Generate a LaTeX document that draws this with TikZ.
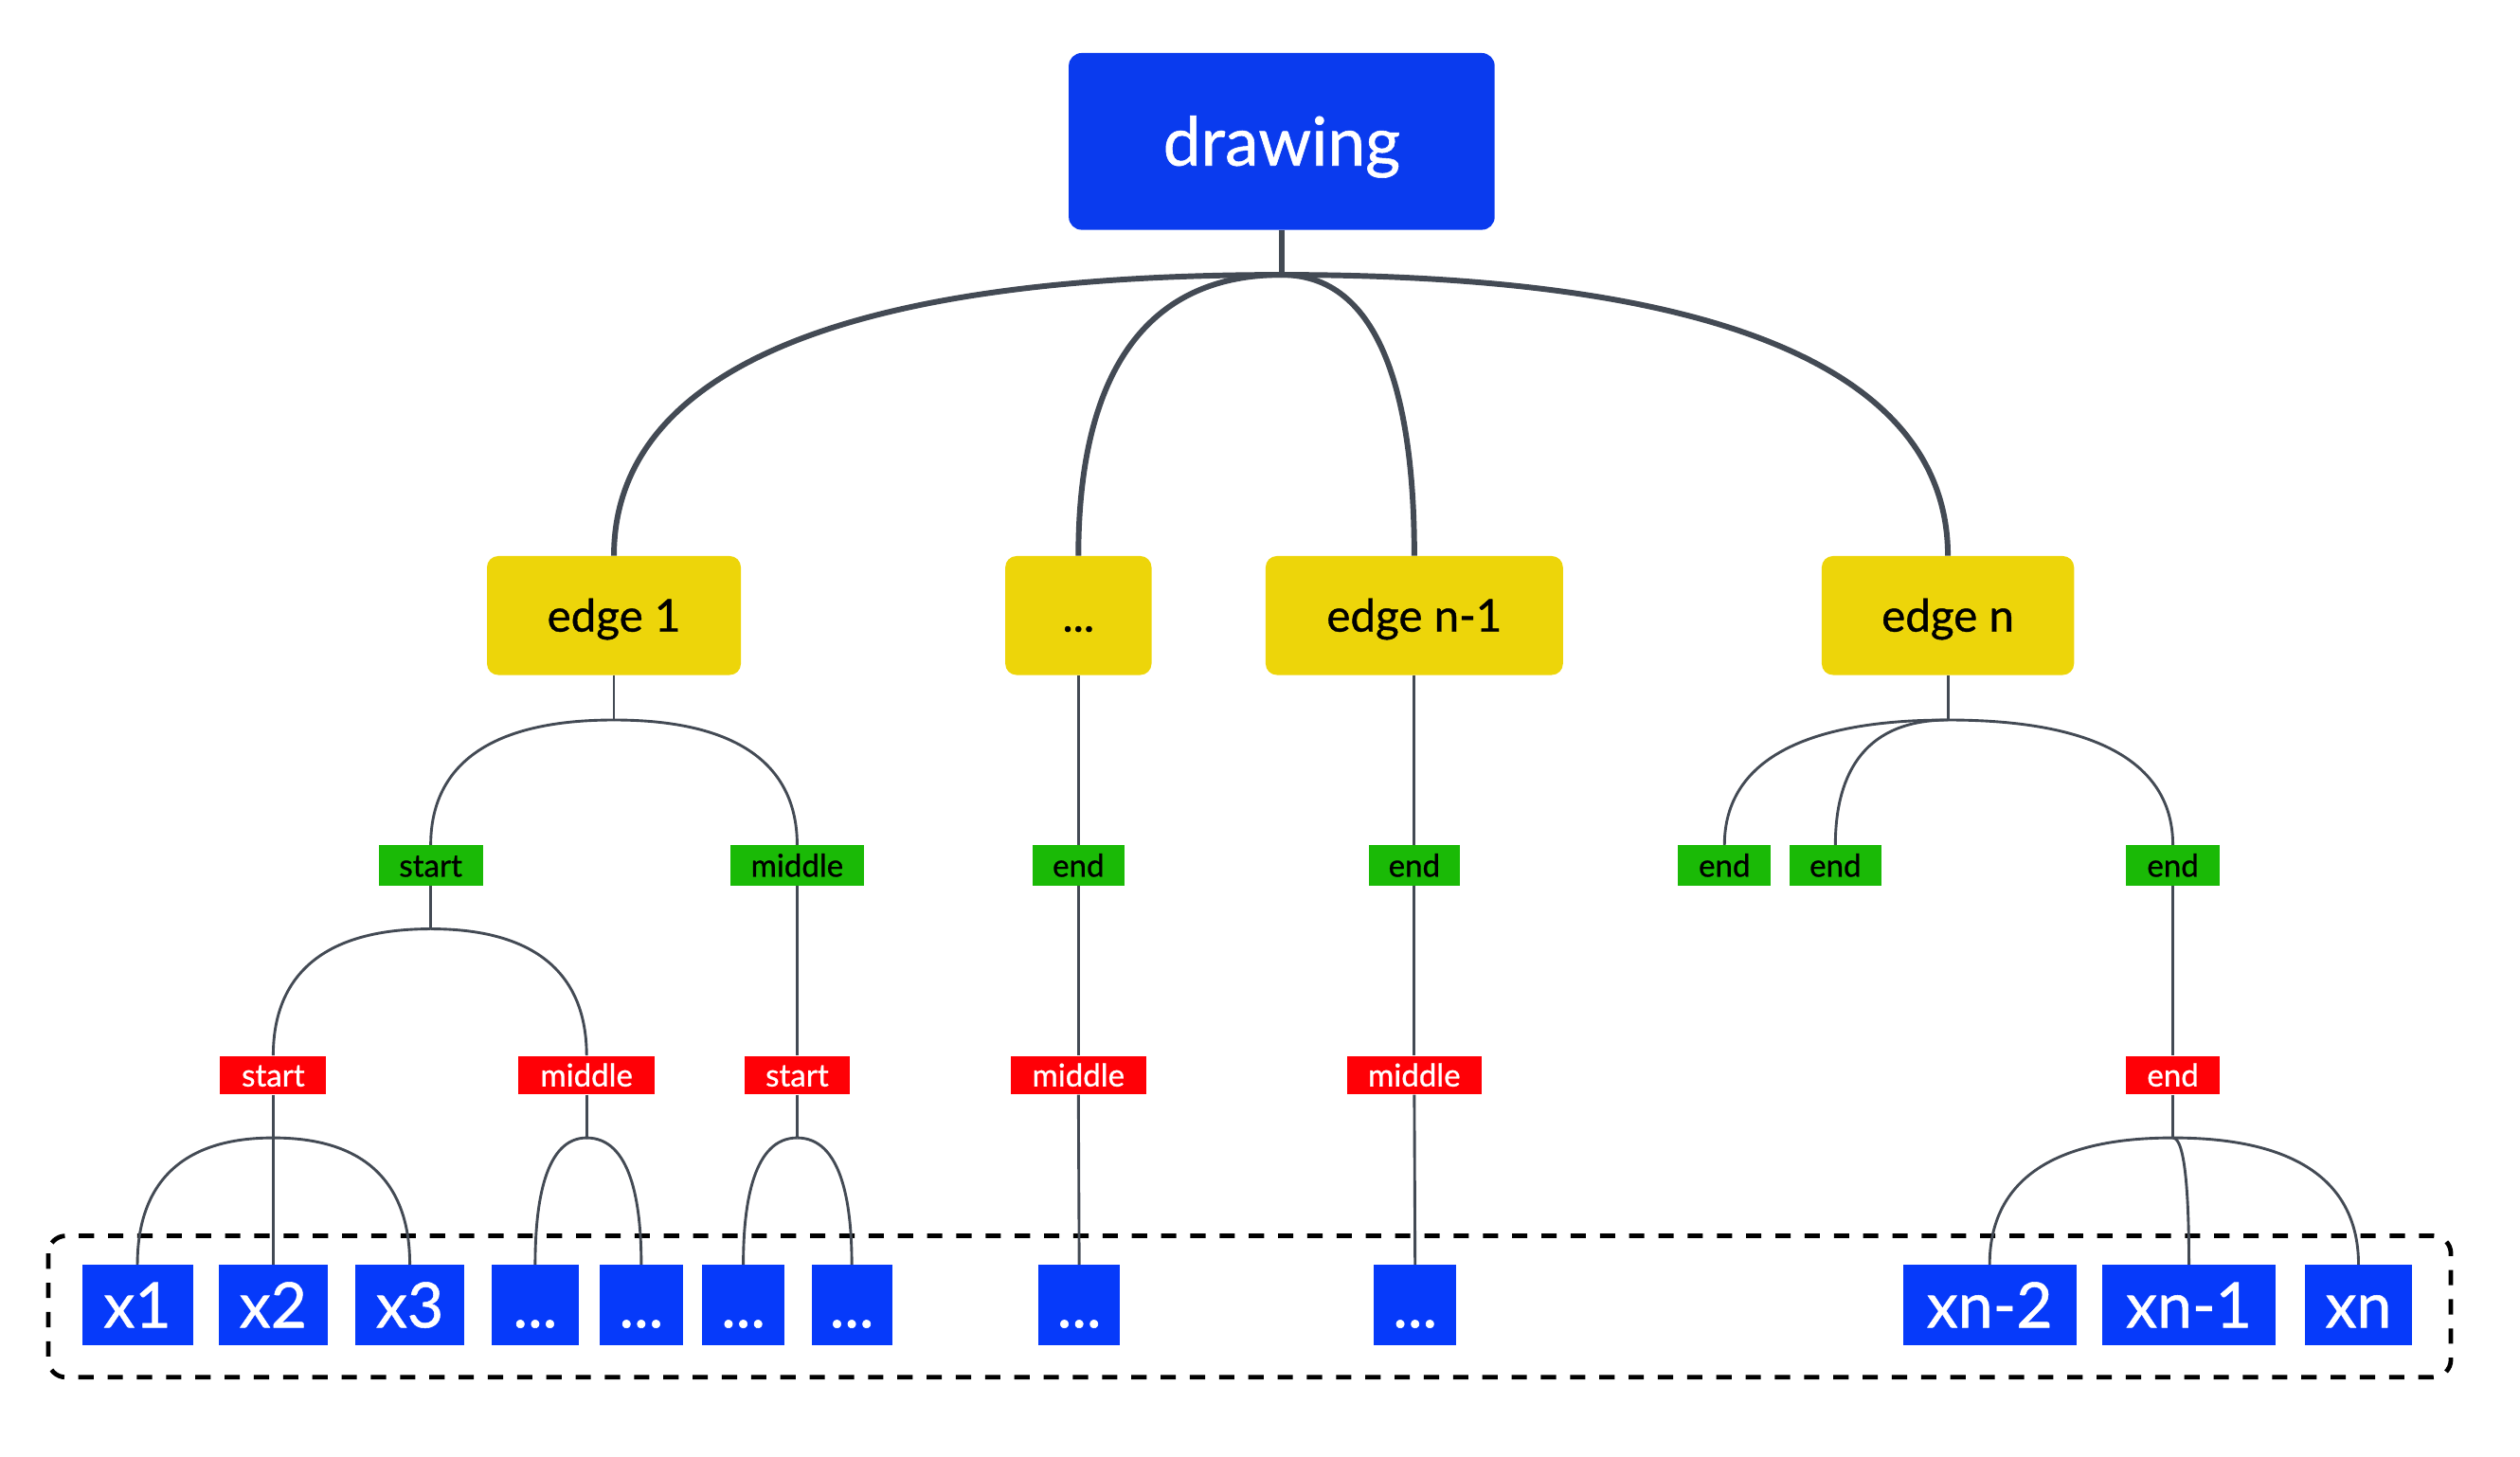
\documentclass[tikz,border=0pt]{standalone}
\usepackage{fontspec}
\setmainfont{Lato}[FakeBold=0.8]
\usetikzlibrary{calc}
\definecolor{topblue}{RGB}{10,59,238}
\definecolor{leafblue}{RGB}{6,58,250}
\definecolor{ylw}{RGB}{237,213,10}
\definecolor{grn}{RGB}{26,186,6}
\definecolor{rd}{RGB}{255,0,6}
\definecolor{lg}{RGB}{67,74,84}
\tikzset{
  basebox/.style={inner sep=0pt, text depth=0pt, align=center},
  topbox/.style={basebox, fill=topblue, rounded corners=8pt, minimum width=265pt, minimum height=110pt, text=white, text height=30pt, font=\fontsize{42}{44}\selectfont},
  edgebox/.style={basebox, fill=ylw, rounded corners=7pt, minimum height=74pt, text=black, text height=20pt, font=\fontsize{28}{30}\selectfont},
  glab/.style={basebox, fill=grn, minimum height=25pt, text=black, text height=14pt, font=\fontsize{19.5}{21}\selectfont},
  rlab/.style={basebox, fill=rd, minimum height=24pt, text=white, text height=14pt, font=\fontsize{19.5}{21}\selectfont},
  leaf/.style={basebox, fill=leafblue, minimum height=50pt, text=white, text height=28pt, font=\fontsize{39}{41}\selectfont},
  thick conn/.style={draw=lg, line width=3.5pt},
  conn/.style={draw=lg, line width=1.7pt},
}
\newcommand{\elb}[3]{\draw[#1] (#2) .. controls ($(#2)!0.8!(#2 -| #3)$) and ($(#3)!0.5!(#2 -| #3)$) .. (#3);}
\begin{document}
\begin{tikzpicture}[x=1pt,y=-1pt]
\useasboundingbox (0,0) rectangle (1568,906.6);
% dashed frame
\draw[black, line width=2.8pt, dash pattern=on 9.5pt off 8.7pt, rounded corners=11pt] (30,769) rectangle (1525,857);
% top
\node[topbox] (drw) at (797.5,88) {drawing};
% edges
\node[edgebox, minimum width=158pt] (e1) at (382,383) {edge 1};
\node[edgebox, minimum width=91pt] (ed) at (671,383) {...};
\node[edgebox, minimum width=185pt] (en1) at (880,383) {edge n-1};
\node[edgebox, minimum width=157pt] (en) at (1212,383) {edge n};
% green
\node[glab, minimum width=65pt] (g1) at (268,538.5) {start};
\node[glab, minimum width=83pt] (g2) at (496,538.5) {middle};
\node[glab, minimum width=57pt] (g3) at (671,538.5) {end};
\node[glab, minimum width=57pt] (g4) at (880,538.5) {end};
\node[glab, minimum width=58pt] (g5) at (1073,538.5) {end};
\node[glab, minimum width=57pt] (g6) at (1142,538.5) {end};
\node[glab, minimum width=58pt] (g7) at (1352,538.5) {end};
% red
\node[rlab, minimum width=66pt] (r1) at (170,669) {start};
\node[rlab, minimum width=85pt] (r2) at (365,669) {middle};
\node[rlab, minimum width=65pt] (r3) at (496,669) {start};
\node[rlab, minimum width=84pt] (r4) at (671,669) {middle};
\node[rlab, minimum width=84pt] (r5) at (880,669) {middle};
\node[rlab, minimum width=58pt] (r6) at (1352,669) {end};
% leaves
\node[leaf, minimum width=69pt] (x1) at (85.5,812) {x1};
\node[leaf, minimum width=68pt] (x2) at (170,812) {x2};
\node[leaf, minimum width=68pt] (x3) at (255,812) {x3};
\node[leaf, minimum width=54pt] (d1) at (333,812) {...};
\node[leaf, minimum width=52pt] (d2) at (399,812) {...};
\node[leaf, minimum width=51pt] (d3) at (462.5,812) {...};
\node[leaf, minimum width=50pt] (d4) at (530,812) {...};
\node[leaf, minimum width=51pt] (d5) at (671.5,812) {...};
\node[leaf, minimum width=51pt] (d6) at (880.5,812) {...};
\node[leaf, minimum width=108pt] (xn2) at (1238,812) {xn-2};
\node[leaf, minimum width=108pt] (xn1) at (1362,812) {xn-1};
\node[leaf, minimum width=67pt] (xn) at (1467.5,812) {xn};
% junctions
\coordinate (j0) at (797.5,171);
\coordinate (j1) at (382,448);
\coordinate (jn) at (1212,448);
\coordinate (js) at (268,578);
\coordinate (jr1) at (170,708);
\coordinate (jr2) at (365,708);
\coordinate (jr3) at (496,708);
\coordinate (jr6) at (1352,708);
% top level
\draw[thick conn] (drw.south) -- (j0);
\elb{thick conn}{j0}{e1.north}
\elb{thick conn}{j0}{ed.north}
\elb{thick conn}{j0}{en1.north}
\elb{thick conn}{j0}{en.north}
% edge level
\draw[conn] (e1.south) -- (j1);
\elb{conn}{j1}{g1.north}
\elb{conn}{j1}{g2.north}
\draw[conn] (ed.south) -- (g3.north);
\draw[conn] (en1.south) -- (g4.north);
\draw[conn] (en.south) -- (jn);
\elb{conn}{jn}{g5.north}
\elb{conn}{jn}{g6.north}
\elb{conn}{jn}{g7.north}
% green to red
\draw[conn] (g1.south) -- (js);
\elb{conn}{js}{r1.north}
\elb{conn}{js}{r2.north}
\draw[conn] (g2.south) -- (r3.north);
\draw[conn] (g3.south) -- (r4.north);
\draw[conn] (g4.south) -- (r5.north);
\draw[conn] (g7.south) -- (r6.north);
% red to leaves
\draw[conn] (r1.south) -- (x2.north);
\elb{conn}{jr1}{x1.north}
\elb{conn}{jr1}{x3.north}
\draw[conn] (r2.south) -- (jr2);
\elb{conn}{jr2}{d1.north}
\elb{conn}{jr2}{d2.north}
\draw[conn] (r3.south) -- (jr3);
\elb{conn}{jr3}{d3.north}
\elb{conn}{jr3}{d4.north}
\draw[conn] (r4.south) -- (d5.north);
\draw[conn] (r5.south) -- (d6.north);
\draw[conn] (r6.south) -- (jr6);
\elb{conn}{jr6}{xn2.north}
\elb{conn}{jr6}{xn1.north}
\elb{conn}{jr6}{xn.north}
\end{tikzpicture}
\end{document}
